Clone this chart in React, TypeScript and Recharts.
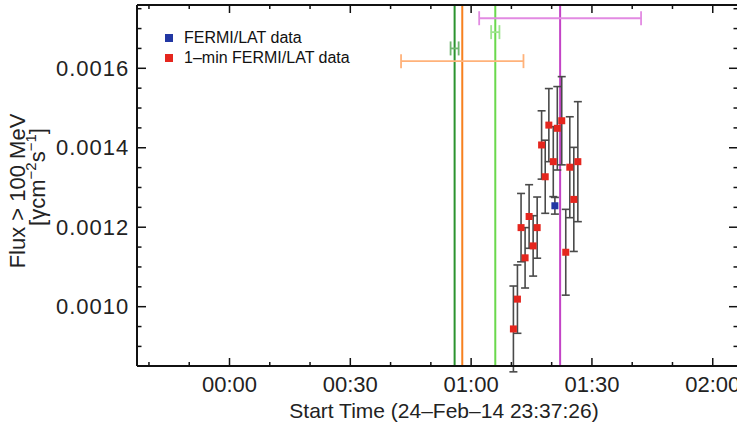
import React from 'react';
import { ScatterChart, Scatter, XAxis, YAxis, ErrorBar, ReferenceLine, Legend } from 'recharts';

// minutes after 00:00 (24-Feb-14 23:37:26 start)
const minuteTimes = [70.5, 71.5, 72.4, 73.4, 74.4, 75.4, 76.4, 77.5, 78.4, 79.3, 80.4, 81.4, 82.5, 83.5, 84.5, 85.5, 86.5];
const minuteFlux = [0.000944, 0.001019, 0.001199, 0.001123, 0.001227, 0.001153, 0.001199, 0.001407, 0.001327, 0.001457, 0.001365, 0.001449, 0.001468, 0.001137, 0.001351, 0.00127, 0.001365];
const minuteErr = [0.000108, 0.000086, 0.000086, 0.000076, 0.00008, 0.000076, 0.000077, 0.000086, 0.000092, 0.000092, 0.000088, 0.000105, 0.000111, 0.000108, 0.000127, 0.000131, 0.000151];

const latTimes = [80.8];
const latFlux = [0.001254];
const latErr = [0.000021];

// event markers: time, time uncertainty, level of the uncertainty bar
const eventTimes = [55.9, 57.8, 66.0, 82.1];
const eventSpread = [1.0, 15.2, 1.03, 20.1];
const eventLevels = [0.00165, 0.001618, 0.001691, 0.001726];

const xMajorTicks = [0, 30, 60, 90, 120];
const xMinorTicks = [-20, -10, 10, 20, 40, 50, 70, 80, 100, 110];
const yMajorTicks = [0.001, 0.0012, 0.0014, 0.0016];
const yMinorTicks = [0.0009, 0.00095, 0.00105, 0.0011, 0.00115, 0.00125, 0.0013, 0.00135, 0.00145, 0.0015, 0.00155, 0.00165, 0.0017, 0.00175];

const X_DOMAIN = [-22.97, 126.27];
const Y_DOMAIN = [0.0008507, 0.0017593];

const FONT = '"Liberation Sans", Arial, Helvetica, sans-serif';
const lineColors = ['#2b932f', '#f7801f', '#6ad84c', '#c343c6'];
const barColors = ['#6fb66f', '#ffb27a', '#9fe58f', '#e28ae2'];

const minuteData = minuteTimes.map((t, i) => ({ t, f: minuteFlux[i], e: minuteErr[i] }));
const latData = latTimes.map((t, i) => ({ t, f: latFlux[i], e: latErr[i] }));
const xTicks = [...xMajorTicks, ...xMinorTicks].sort((a, b) => a - b);
const yTicks = [...yMajorTicks, ...yMinorTicks].sort((a, b) => a - b);

const fmtTime = (m: number) =>
  `${String(Math.floor(m / 60)).padStart(2, '0')}:${String(m % 60).padStart(2, '0')}`;

const isMajorX = (v: number) => xMajorTicks.includes(v);
const isMajorY = (v: number) => yMajorTicks.some((m) => Math.abs(m - v) < 1e-9);

// inward ticks, long for labelled values
const BottomTick = ({ x, y, payload }: any) => {
  const major = isMajorX(payload.value);
  return (
    <g>
      <line x1={x} x2={x} y1={y} y2={y - (major ? 8 : 4)} stroke="#111" strokeWidth={1.5} />
      {major && (
        <text x={x} y={y + 25.7} textAnchor="middle" fontSize={22} fontFamily={FONT} fill="#222">
          {fmtTime(payload.value)}
        </text>
      )}
    </g>
  );
};
const TopTick = ({ x, y, payload }: any) => (
  <line x1={x} x2={x} y1={y} y2={y + (isMajorX(payload.value) ? 8 : 4)} stroke="#111" strokeWidth={1.5} />
);
const LeftTick = ({ x, y, payload }: any) => {
  const major = isMajorY(payload.value);
  return (
    <g>
      <line x1={x} x2={x + (major ? 9 : 4.5)} y1={y} y2={y} stroke="#111" strokeWidth={1.5} />
      {major && (
        <text x={x - 7.7} y={y + 7.6} textAnchor="end" fontSize={22} letterSpacing={1} fontFamily={FONT} fill="#222">
          {payload.value.toFixed(4)}
        </text>
      )}
    </g>
  );
};
const RightTick = ({ x, y, payload }: any) => (
  <line x1={x} x2={x - (isMajorY(payload.value) ? 9 : 4.5)} y1={y} y2={y} stroke="#111" strokeWidth={1.5} />
);

const square = (size: number, color: string) => (props: any) =>
  <rect x={props.cx - size / 2} y={props.cy - size / 2} width={size} height={size} fill={color} />;

const FluxLabel = () => (
  <g fontFamily={FONT} fill="#222">
    <text transform="translate(24.5,191) rotate(-90)" textAnchor="middle" fontSize={22}>Flux &gt; 100 MeV</text>
    <text transform="translate(44.5,177) rotate(-90)" textAnchor="middle" fontSize={22}>
      [γcm<tspan fontSize={15} dy={-9}>−2</tspan>
      <tspan dy={9}>s</tspan>
      <tspan fontSize={15} dy={-9}>−1</tspan>
      <tspan dy={9}>]</tspan>
    </text>
  </g>
);

const TimeLabel = () => (
  <text x={444} y={418} textAnchor="middle" fontSize={21} fontFamily={FONT} fill="#222">
    Start Time (24–Feb–14 23:37:26)
  </text>
);

const LegendBox = () => (
  <div style={{ fontFamily: FONT, fontSize: 16, color: '#111' }}>
    {[['#2237a3', 'FERMI/LAT data'], ['#e5261e', '1–min FERMI/LAT data']].map(([c, name]) => (
      <div key={name} style={{ display: 'flex', alignItems: 'center', height: 20, lineHeight: '20px', whiteSpace: 'nowrap' }}>
        <span style={{ width: 8, height: 8, background: c, marginRight: 11 }}></span>
        {name}
      </div>
    ))}
  </div>
);

const axisLine = { stroke: '#111', strokeWidth: 2 };

export default function App() {
  return (
    <div style={{ position: 'absolute', left: 0, top: 0, width: 737, height: 429, background: '#fff' }}>
      <ScatterChart width={737} height={429} margin={{ top: 4, right: -2, bottom: 62, left: 136 }}>
        <XAxis xAxisId="b" dataKey="t" type="number" domain={X_DOMAIN} allowDataOverflow ticks={xTicks}
          height={1} tickSize={0} tickMargin={0} tick={<BottomTick />} tickLine={false}
          axisLine={axisLine} interval={0} label={<TimeLabel />} />
        <XAxis xAxisId="t" orientation="top" dataKey="t" type="number" domain={X_DOMAIN} allowDataOverflow ticks={xTicks}
          height={1} tickSize={0} tickMargin={0} tick={<TopTick />} tickLine={false} axisLine={axisLine} interval={0} />
        <YAxis yAxisId="l" dataKey="f" type="number" domain={Y_DOMAIN} allowDataOverflow ticks={yTicks}
          width={1} tickSize={0} tickMargin={0} tick={<LeftTick />} tickLine={false}
          axisLine={axisLine} interval={0} label={<FluxLabel />} />
        <YAxis yAxisId="r" orientation="right" dataKey="f" type="number" domain={Y_DOMAIN} allowDataOverflow ticks={yTicks}
          width={1} tickSize={0} tickMargin={0} tick={<RightTick />} tickLine={false} axisLine={axisLine} interval={0} />

        <Legend layout="horizontal" verticalAlign="middle" align="center" content={<LegendBox />}
          wrapperStyle={{ left: 165, top: 27.5, width: 'auto' }} />

        {eventTimes.map((t, i) => (
          <ReferenceLine key={'l' + i} xAxisId="b" yAxisId="l" x={t} stroke={lineColors[i]} strokeWidth={2} />
        ))}
        {eventTimes.map((t, i) => (
          <Scatter key={'e' + i} xAxisId="b" yAxisId="l" data={[{ t, f: eventLevels[i], e: eventSpread[i] }]}
            dataKey="f" shape={() => <g />} legendType="none" isAnimationActive={false}>
            <ErrorBar dataKey="e" direction="x" width={7} stroke={barColors[i]} strokeWidth={1.8} />
          </Scatter>
        ))}

        <Scatter name="1–min FERMI/LAT data" xAxisId="b" yAxisId="l" data={minuteData} dataKey="f"
          shape={square(7, '#e5261e')} isAnimationActive={false}>
          <ErrorBar dataKey="e" direction="y" width={4} stroke="#4a4a4a" strokeWidth={1.6} />
        </Scatter>
        <Scatter name="FERMI/LAT data" xAxisId="b" yAxisId="l" data={latData} dataKey="f"
          shape={square(7, '#2237a3')} isAnimationActive={false}>
          <ErrorBar dataKey="e" direction="y" width={4} stroke="#4a4a4a" strokeWidth={1.6} />
        </Scatter>
      </ScatterChart>
    </div>
  );
}
